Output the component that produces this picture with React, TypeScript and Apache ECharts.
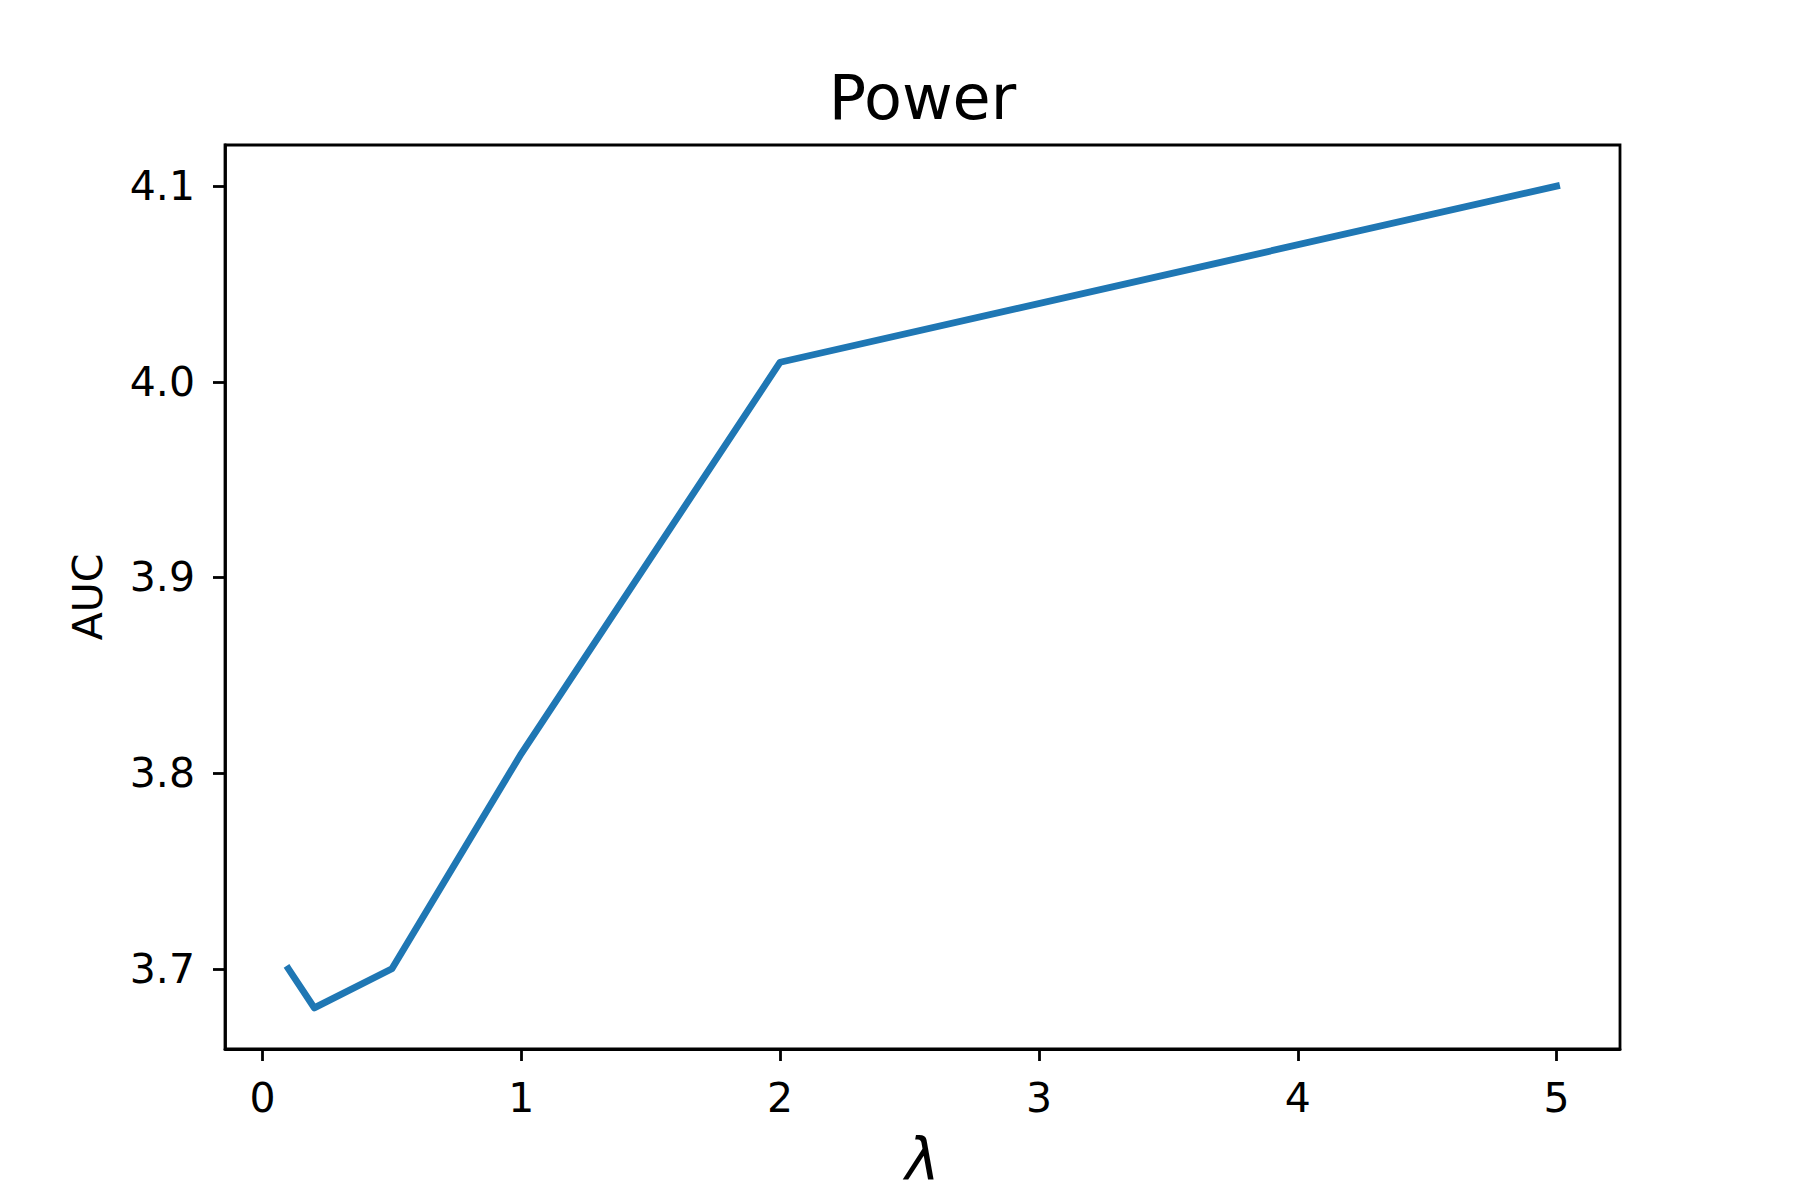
import React, { useEffect, useRef } from "react";
import * as echarts from "echarts";

const lambdas = [0.1, 0.2, 0.5, 1, 2, 5];
const aucValues = [3.7, 3.68, 3.7, 3.81, 4.01, 4.1];
const xTicks = [0, 1, 2, 3, 4, 5];
const yTicks = [3.7, 3.8, 3.9, 4.0, 4.1];
const titleText = "Power";
const xLabel = "λ";
const yLabel = "AUC";

const FONT = "'DejaVu Sans', sans-serif";

export default function App() {
  const ref = useRef<HTMLDivElement>(null);
  useEffect(() => {
    if (!ref.current) return;
    const chart = echarts.init(ref.current, null, { renderer: "svg" });
    const gridLeft = 225;
    const gridTop = 145;
    const gridW = 1395;
    const gridH = 904;
    chart.setOption({
      animation: false,
      backgroundColor: "#fff",
      grid: {
        left: gridLeft,
        top: gridTop,
        width: gridW,
        height: gridH,
        show: true,
        borderColor: "#000",
        borderWidth: 2.8,
        backgroundColor: "transparent",
      },
      xAxis: {
        type: "value",
        min: -0.145,
        max: 5.245,
        splitLine: { show: false },
        axisLine: { onZero: false, lineStyle: { color: "#000", width: 2.8 } },
        axisTick: {
          show: true,
          length: 12,
          lineStyle: { color: "#000", width: 2.8 },
          customValues: xTicks,
        },
        axisLabel: {
          customValues: xTicks,
          margin: 28,
          color: "#000",
          fontSize: 41,
          fontFamily: FONT,
          formatter: (v: number) => String(v),
        },
      },
      yAxis: {
        type: "value",
        min: 3.659,
        max: 4.121,
        splitLine: { show: false },
        axisLine: { show: true, onZero: false, lineStyle: { color: "#000", width: 2.8 } },
        axisTick: {
          show: true,
          length: 12,
          lineStyle: { color: "#000", width: 2.8 },
          customValues: yTicks,
        },
        axisLabel: {
          customValues: yTicks,
          margin: 30,
          color: "#000",
          fontSize: 41,
          fontFamily: FONT,
          formatter: (v: number) => v.toFixed(1),
        },
      },
      graphic: [
        {
          type: "text",
          x: gridLeft + gridW / 2,
          y: 97,
          style: {
            text: titleText,
            font: `62px ${FONT}`,
            fill: "#000",
            textAlign: "center",
            textVerticalAlign: "middle",
            align: "center",
            verticalAlign: "middle",
          },
        },
        {
          type: "text",
          x: gridLeft + gridW / 2,
          y: 1160,
          style: {
            text: xLabel,
            font: `italic 58px ${FONT}`,
            fill: "#000",
            textAlign: "center",
            textVerticalAlign: "middle",
            align: "center",
            verticalAlign: "middle",
          },
        },
        {
          type: "text",
          x: 88,
          y: gridTop + gridH / 2,
          rotation: Math.PI / 2,
          style: {
            text: yLabel,
            font: `41px ${FONT}`,
            fill: "#000",
            textAlign: "center",
            textVerticalAlign: "middle",
            align: "center",
            verticalAlign: "middle",
          },
        },
      ],
      series: [
        {
          type: "line",
          data: lambdas.map((x, i) => [x, aucValues[i]]),
          symbol: "none",
          lineStyle: { color: "#1f77b4", width: 6.8, cap: "square", join: "round" },
          itemStyle: { color: "#1f77b4" },
          z: 3,
        },
      ],
    });
    return () => chart.dispose();
  }, []);
  return (
    <div
      ref={ref}
      style={{ position: "absolute", left: 0, top: 0, width: 1800, height: 1200 }}
    />
  );
}
